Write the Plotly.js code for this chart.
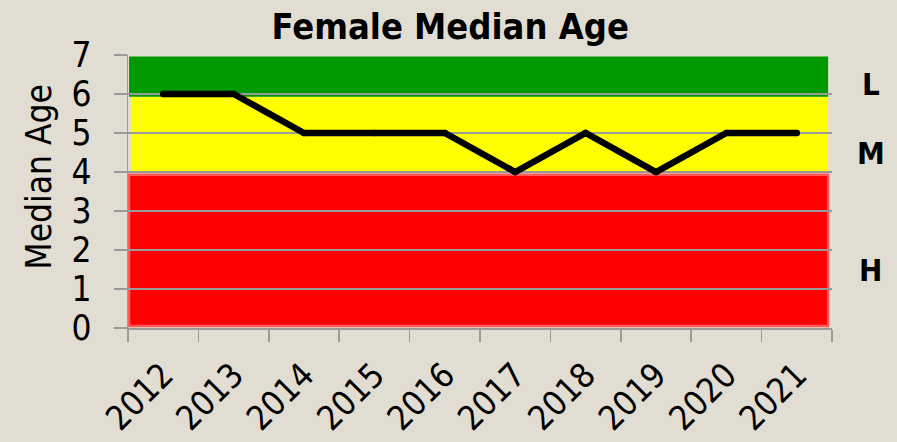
<!DOCTYPE html>
<html>
<head>
<meta charset="utf-8">
<script src="https://cdn.plot.ly/plotly-3.0.1.min.js"></script>
<style>html,body{margin:0;padding:0;background:#e2ddd2;}#chart{width:897px;height:442px;}</style>
</head>
<body>
<div id="chart"></div>
<script>
// Data
var years = ['2012','2013','2014','2015','2016','2017','2018','2019','2020','2021'];
var medianAge = [6, 6, 5, 5, 5, 4, 5, 4, 5, 5];
// Risk bands (value ranges)
var bandNames = ['H', 'M', 'L'];
var bandLow = [0.05, 3.99, 5.93];
var bandHigh = [3.93, 5.93, 6.96];
var bandColors = ['#ff0000', '#ffff00', '#009900'];
var bandLabelY = [1.5, 4.5, 6.25];
var yTicks = [0, 1, 2, 3, 4, 5, 6, 7];

var FONT = '"DejaVu Sans Condensed", "DejaVu Sans", Tahoma, sans-serif';
var BG = '#e2ddd2';
var GRID = '#9a9a9a';

var shapes = bandNames.map(function (n, i) {
  var isRed = n === 'H';
  return {
    type: 'rect', layer: 'below', xref: 'paper', yref: 'y',
    x0: n === 'M' ? 0.004 : 0.0015, x1: 0.9945,
    y0: bandLow[i], y1: bandHigh[i],
    fillcolor: bandColors[i],
    line: isRed ? {color: '#ff5a5a', width: 2.5} : {width: 0}
  };
});

var annotations = bandNames.map(function (n, i) {
  return {
    text: '<b>' + n + '</b>', xref: 'paper', yref: 'y',
    x: 1.055, y: bandLabelY[i], xanchor: 'center', yanchor: 'middle',
    showarrow: false, font: {family: FONT, size: 31, color: '#000'}
  };
});
annotations.push({
  text: 'Median Age', xref: 'paper', yref: 'paper', textangle: -90,
  x: 0, y: 0.5, xanchor: 'center', yanchor: 'middle',
  xshift: -90, yshift: 14, showarrow: false,
  font: {family: FONT, size: 35, color: '#000'}
});

var trace = {
  x: years, y: medianAge, type: 'scatter', mode: 'lines+markers',
  line: {color: '#000000', width: 6.5},
  marker: {color: '#000000', size: 6.5},
  hoverinfo: 'skip'
};

var layout = {
  width: 897, height: 442,
  paper_bgcolor: BG, plot_bgcolor: BG,
  margin: {l: 128, r: 65, t: 55, b: 114},
  showlegend: false,
  title: {text: '<b>Female Median Age</b>', x: 0.502, xanchor: 'center', y: 0.94, yanchor: 'middle',
          font: {family: FONT, size: 36, color: '#000'}},
  xaxis: {
    type: 'category', tickson: 'boundaries', range: [-0.5, 9.5],
    ticks: 'outside', ticklen: 12, tickcolor: GRID, tickwidth: 1.5,
    showline: true, linecolor: GRID, linewidth: 1.5,
    showgrid: false, zeroline: false, ticklabelstandoff: 12,
    tickangle: -45, tickfont: {family: FONT, size: 34, color: '#000'}
  },
  yaxis: {
    range: [0, 7], tickvals: yTicks, ticktext: yTicks.map(String),
    ticks: 'outside', ticklen: 13, tickcolor: GRID, tickwidth: 1.5,
    showline: true, linecolor: GRID, linewidth: 1.5,
    showgrid: true, gridcolor: GRID, gridwidth: 1.5, zeroline: false,
    ticklabelstandoff: 15,
    tickfont: {family: FONT, size: 35, color: '#000'}
  },
  shapes: shapes,
  annotations: annotations
};

Plotly.newPlot('chart', [trace], layout, {displayModeBar: false, staticPlot: true});
</script>
</body>
</html>
